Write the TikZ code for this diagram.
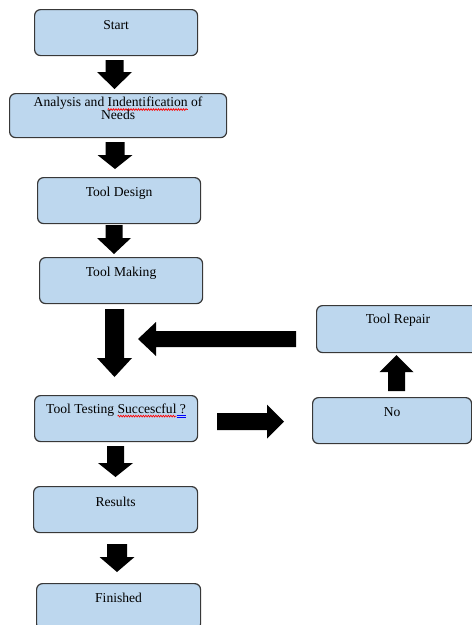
\documentclass[tikz,border=0pt]{standalone}
\usepackage{fontspec}
\setmainfont{Liberation Serif}
\usetikzlibrary{decorations.pathmorphing}

\definecolor{boxblue}{HTML}{BDD7EE}
\definecolor{boxline}{HTML}{383838}

% spell-check style marks under words
\newcommand\spellwave[1]{\tikz[baseline=(sw.base),x=1pt,y=1pt]{%
  \node[inner sep=0pt,outer sep=0pt,align=left] (sw) {#1};
  \draw[overlay,red,line width=0.65pt,decorate,
    decoration={snake,amplitude=0.9pt,segment length=2.5pt}]
    ([yshift=-2.8pt]sw.base west) -- ([yshift=-2.8pt]sw.base east);}}
\newcommand\gramline[1]{\tikz[baseline=(gl.base),x=1pt,y=1pt]{%
  \node[inner sep=0pt,outer sep=0pt,align=left] (gl) {#1};
  \draw[overlay,blue,line width=0.5pt]
    ([yshift=-2.4pt]gl.base west) -- ([yshift=-2.4pt]gl.base east)
    ([yshift=-4.3pt]gl.base west) -- ([yshift=-4.3pt]gl.base east);}}

% block arrows: vertical {x}{start y}{head base y}{tip y}{shaft half}{head half}
\newcommand\vblock[6]{\fill[blk] ({#1-#5},#2) -- ({#1+#5},#2) -- ({#1+#5},#3) -- ({#1+#6},#3)
  -- (#1,#4) -- ({#1-#6},#3) -- ({#1-#5},#3) -- cycle;}
% horizontal {y}{start x}{head base x}{tip x}{shaft half}{head half}
\newcommand\hblock[6]{\fill[blk] (#2,{#1-#5}) -- (#2,{#1+#5}) -- (#3,{#1+#5}) -- (#3,{#1+#6})
  -- (#4,#1) -- (#3,{#1-#6}) -- (#3,{#1-#5}) -- cycle;}

\begin{document}
\begin{tikzpicture}[x=1pt,y=-1pt,
  box/.style={draw=boxline, fill=boxblue, line width=1.2pt, rounded corners=6pt,
    anchor=north west, inner sep=0pt, minimum height=46pt},
  lbl/.style={align=center, inner sep=0pt, text=black,
    font=\fontsize{13.6}{13}\selectfont},
  blk/.style={fill=black}]
\useasboundingbox (0,0) rectangle (472,625);
\clip (0,0) rectangle (472,625);

% process boxes
\node[box, minimum width=163pt] (start) at (34,9) {};
\node[box, minimum width=217pt, minimum height=44pt] (analysis) at (9,93) {};
\node[box, minimum width=163pt] (design) at (37,177) {};
\node[box, minimum width=163pt] (making) at (39,257) {};
\node[box, minimum width=163pt] (testing) at (34,395) {};
\node[box, minimum width=164pt] (results) at (33,486) {};
\node[box, minimum width=164pt] (finished) at (36,583) {};
\node[box, minimum width=170pt, minimum height=47pt] (repair) at (316,305) {};
\node[box, minimum width=159pt] (no) at (312,397) {};

% box captions
\node[lbl] (startT) at ([yshift=-16pt]start.north) {Start};
\node[lbl] (analysisT) at ([yshift=-15.5pt]analysis.north) {Analysis and \spellwave{Indentification} of\\Needs};
\node[lbl] (designT) at ([yshift=-16pt]design.north) {Tool Design};
\node[lbl] (makingT) at ([yshift=-16pt]making.north) {Tool Making};
\node[lbl] (testingT) at ([yshift=-15pt]testing.north) {Tool Testing \spellwave{Succescful}\gramline{\ ?}};
\node[lbl] (resultsT) at ([yshift=-16pt]results.north) {Results};
\node[lbl] (finishedT) at ([yshift=-15pt]finished.north) {Finished};
\node[lbl] (repairT) at (398,320) {Tool Repair};
\node[lbl] (noT) at ([yshift=-15pt]no.north) {No};

% flow arrows
\vblock{114.5}{60}{72}{89}{9}{17.5}
\vblock{115}{142}{155}{169}{9.5}{17.5}
\vblock{114}{225}{238}{254}{8.5}{17}
\vblock{114.5}{309}{358}{377}{9.5}{17.5}
\vblock{115.5}{446}{463}{477}{8.5}{17.5}
\vblock{117}{544}{557}{572}{10}{17.5}
\vblock{396.5}{391}{372}{355}{8.5}{17}
\hblock{339}{296}{156}{138}{8}{17}
\hblock{421.5}{217}{267}{284}{8.5}{17}
\end{tikzpicture}
\end{document}
